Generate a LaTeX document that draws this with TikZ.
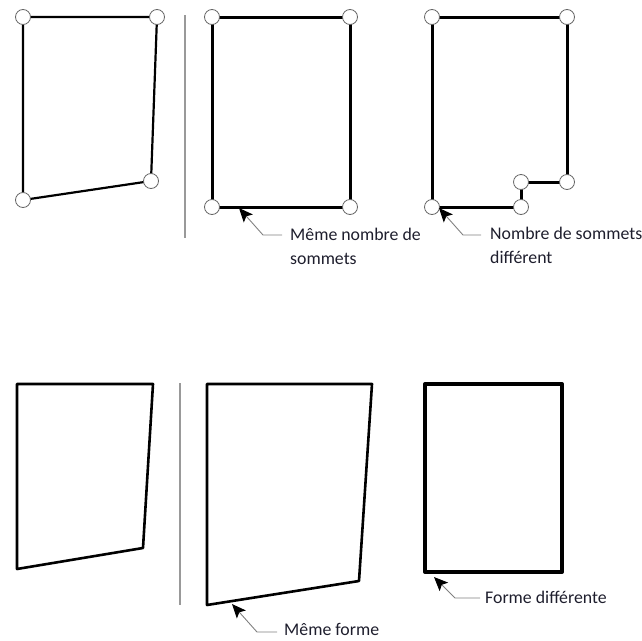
\documentclass[tikz,border=0pt]{standalone}
\usepackage{fontspec}
\setmainfont{Carlito}
\usetikzlibrary{positioning,arrows.meta}
\definecolor{inkc}{RGB}{30,30,45}

\begin{document}
\begin{tikzpicture}[x=1pt, y=-1pt,
    vtx/.style={draw=black!60, fill=white, circle, minimum size=15pt, inner sep=0pt, line width=0.8pt},
    edge/.style={line width=#1, line cap=round, line join=round},
    edge/.default=2.2pt,
    sep/.style={draw=black!40, line width=1.5pt},
    lead/.style={draw=black!50, line width=0.9pt, {Stealth[color=black, length=14pt, width=12pt, inset=3pt]}-},
    lbl/.style={font=\fontsize{17.8}{24}\selectfont, text=inkc, align=left, inner sep=0pt, anchor=base west}]

    \useasboundingbox (0,0) rectangle (642,640);

    % top row: vertices
    \draw[sep] (185,15) -- (185,238);

    \draw[edge] (23,17) -- (157,17) -- (151,181) -- (23,200) -- cycle;
    \node[vtx] (a1) at (23,17) {};
    \node[vtx] (b1) at (157,17) {};
    \node[vtx] (c1) at (151,181) {};
    \node[vtx] (d1) at (23,200) {};

    \draw[edge=3pt] (212,17) -- (350,17) -- (350,207) -- (212,207) -- cycle;
    \node[vtx] (a2) at (212,17) {};
    \node[vtx] (b2) at (350,17) {};
    \node[vtx] (c2) at (350,207) {};
    \node[vtx] (d2) at (212,207) {};

    \draw[edge=3pt] (432,17) -- (567,17) -- (567,182) -- (521,182) -- (521,207) -- (432,207) -- cycle;
    \node[vtx] (a3) at (432,17) {};
    \node[vtx] (b3) at (567,17) {};
    \node[vtx] (c3) at (567,182) {};
    \node[vtx] (e3) at (521,182) {};
    \node[vtx] (f3) at (521,207) {};
    \node[vtx] (d3) at (432,207) {};

    % base of a two-line label is its last line
    \node[lbl] (same2) at (290,264) {Même nombre de\\sommets};
    \coordinate (tip2) at (239,208);
    \coordinate (bend2) at (263,235);
    \coordinate (end2) at (282,235);
    \draw[lead] (tip2) -- (bend2) -- (end2);

    \node[lbl] (diff3) at (490,263) {Nombre de sommets\\différent};
    \coordinate (tip3) at (439,208);
    \coordinate (bend3) at (463,235);
    \coordinate (end3) at (481,235);
    \draw[lead] (tip3) -- (bend3) -- (end3);

    % bottom row: shapes only
    \draw[sep] (180,383) -- (180,605);

    \coordinate (a4) at (17,384);
    \coordinate (b4) at (153,384);
    \coordinate (c4) at (143,548);
    \coordinate (d4) at (17,569);
    \draw[edge=2.6pt] (a4) -- (b4) -- (c4) -- (d4) -- cycle;

    \coordinate (a5) at (207,384);
    \coordinate (b5) at (372,384);
    \coordinate (c5) at (359,581);
    \coordinate (d5) at (207,605);
    \draw[edge=2.6pt] (a5) -- (b5) -- (c5) -- (d5) -- cycle;

    \coordinate (a6) at (425,384);
    \coordinate (b6) at (562,384);
    \coordinate (c6) at (562,572);
    \coordinate (d6) at (425,572);
    \draw[edge=4pt] (a6) -- (b6) -- (c6) -- (d6) -- cycle;

    \node[lbl] (same5) at (284,635) {Même forme};
    \coordinate (tip5) at (232,604);
    \coordinate (bend5) at (257,632);
    \coordinate (end5) at (277,632);
    \draw[lead] (tip5) -- (bend5) -- (end5);

    \node[lbl] (diff6) at (485,603) {Forme différente};
    \coordinate (tip6) at (434,577);
    \coordinate (bend6) at (455,598);
    \coordinate (end6) at (480,598);
    \draw[lead] (tip6) -- (bend6) -- (end6);

\end{tikzpicture}
\end{document}
